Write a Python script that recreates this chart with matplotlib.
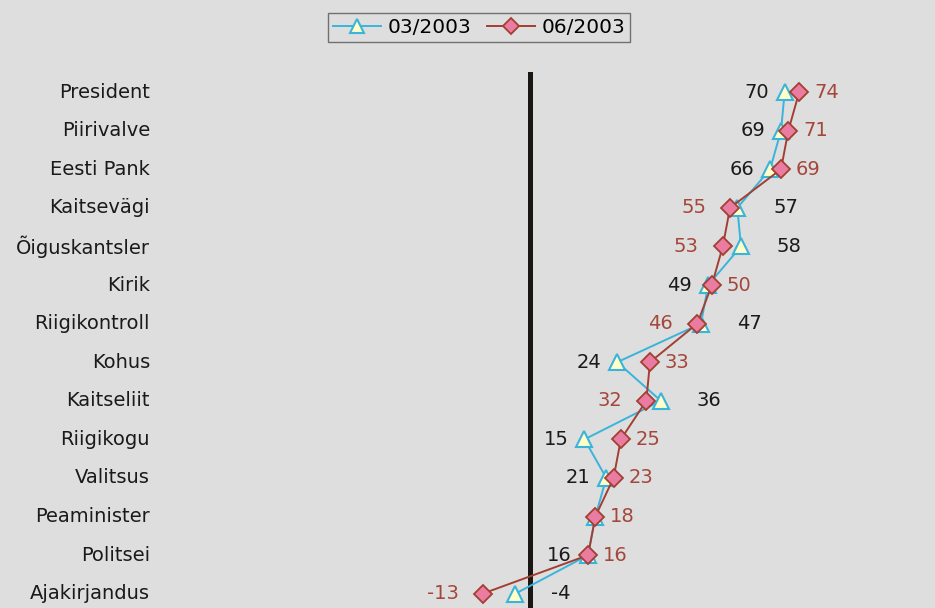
import matplotlib
matplotlib.use("Agg")
import matplotlib.pyplot as plt
from matplotlib.lines import Line2D

categories = ["President", "Piirivalve", "Eesti Pank", "Kaitsevägi", "Õiguskantsler",
              "Kirik", "Riigikontroll", "Kohus", "Kaitseliit", "Riigikogu",
              "Valitsus", "Peaminister", "Politsei", "Ajakirjandus"]
vals_03 = [70, 69, 66, 57, 58, 49, 47, 24, 36, 15, 21, 18, 16, -4]
vals_06 = [74, 71, 69, 55, 53, 50, 46, 33, 32, 25, 23, 18, 16, -13]
show_03 = [True] * 11 + [False] + [True, True]
series_names = ["03/2003", "06/2003"]

BG = "#DEDEDE"
CYAN = "#3AB4DA"
TRI_FILL = "#FFFFC8"
BROWN = "#A23F33"
PINK = "#EA7CA2"
LBL_BROWN = "#A4473A"
TXT = "#1A1A1A"

W, H = 935, 608
fig = plt.figure(figsize=(W / 100, H / 100), dpi=100, facecolor=BG)
ax = fig.add_axes([160 / W, 0, (W - 160) / W, (608 - 72) / H])
ax.set_facecolor(BG)
for s in ax.spines.values():
    s.set_visible(False)
ax.set_xticks([])
ax.set_yticks([])

ypos = list(range(len(categories)))
ax.set_xlim(-101.6, 111.3)
ax.set_ylim(13.37, -0.52)

ax.axvline(0, color="#1A1715", lw=3.6, zorder=1)

ax.plot(vals_03, ypos, color=CYAN, lw=1.4, marker="^", ms=11,
        mfc=TRI_FILL, mec=CYAN, mew=1.5, zorder=3)
ax.plot(vals_06, ypos, color=BROWN, lw=1.4, marker="D", ms=9,
        mfc=PINK, mec=BROWN, mew=1.3, zorder=4)

fs = 14
for i, (a, b) in enumerate(zip(vals_03, vals_06)):
    if show_03[i]:
        if a <= b:
            ax.annotate(str(a), (a, i), xytext=(-16, 0), textcoords="offset pixels",
                        ha="right", va="center", fontsize=fs, color=TXT)
        else:
            ax.annotate(str(a), (a, i), xytext=(36, 0), textcoords="offset pixels",
                        ha="left", va="center", fontsize=fs, color=TXT)
    if b >= a:
        ax.annotate(str(b), (b, i), xytext=(15, 0), textcoords="offset pixels",
                    ha="left", va="center", fontsize=fs, color=LBL_BROWN)
    else:
        ax.annotate(str(b), (b, i), xytext=(-24, 0), textcoords="offset pixels",
                    ha="right", va="center", fontsize=fs, color=LBL_BROWN)

for i, c in enumerate(categories):
    ax.annotate(c, (0, i), xycoords=("axes fraction", "data"), xytext=(-10, 0),
                textcoords="offset pixels", ha="right", va="center",
                fontsize=fs, color=TXT, annotation_clip=False)

handles = [
    Line2D([], [], color=CYAN, lw=1.4, marker="^", ms=10, mfc=TRI_FILL, mec=CYAN, mew=1.5),
    Line2D([], [], color=BROWN, lw=1.4, marker="D", ms=8, mfc=PINK, mec=BROWN, mew=1.3),
]
leg = fig.legend(handles, series_names, loc="center", bbox_to_anchor=(479 / W, 1 - 27.5 / H),
                 ncol=2, fontsize=14.5, frameon=True, fancybox=False, handlelength=2.4,
                 columnspacing=0.8, handletextpad=0.3, borderpad=0.25, borderaxespad=0)
leg.get_frame().set_edgecolor("#555555")
leg.get_frame().set_facecolor(BG)
leg.get_frame().set_linewidth(1.0)

fig.savefig("out.png", dpi=100, facecolor=BG)
